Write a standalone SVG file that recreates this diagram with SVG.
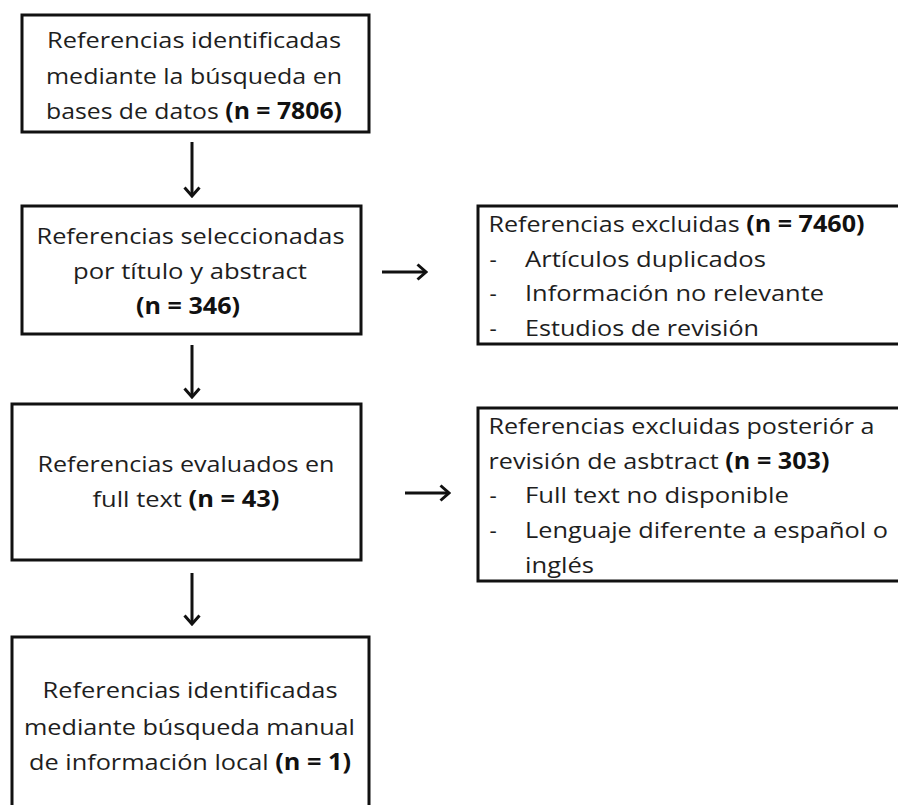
<svg xmlns="http://www.w3.org/2000/svg" width="898" height="805" viewBox="0 0 898 805">
<style>
.box{fill:#fff;stroke:#111;stroke-width:3}
.t{font-family:"Open Sans","Liberation Sans",sans-serif;font-size:22.5px;fill:#1e1e1e}
.b{font-weight:bold;fill:#111}
.c{stroke:#111;stroke-width:3;fill:none}
</style>
<defs>
<marker id="ah" markerUnits="userSpaceOnUse" viewBox="-12 -10 14 20" refX="0" refY="0" markerWidth="14" markerHeight="20" orient="auto">
<path d="M-8.5,-7.5 L0,0 L-8.5,7.5" fill="none" stroke="#111" stroke-width="3"/>
</marker>
</defs>
<rect width="898" height="805" fill="#fff"/>
<g id="n1">
<rect class="box" x="22" y="15" width="347" height="117"/>
<text class="t" x="47" y="48" textLength="294" lengthAdjust="spacingAndGlyphs">Referencias identificadas</text>
<text class="t" x="46" y="83.5" textLength="296" lengthAdjust="spacingAndGlyphs">mediante la búsqueda en</text>
<text class="t" x="46" y="118.5" textLength="296" lengthAdjust="spacingAndGlyphs">bases de datos <tspan class="b">(n = 7806)</tspan></text>
</g>
<g id="n2">
<rect class="box" x="22" y="206" width="339" height="128"/>
<text class="t" x="36.5" y="243.5" textLength="308" lengthAdjust="spacingAndGlyphs">Referencias seleccionadas</text>
<text class="t" x="73" y="279" textLength="234" lengthAdjust="spacingAndGlyphs">por título y abstract</text>
<text class="t b" x="136" y="313.5" textLength="104" lengthAdjust="spacingAndGlyphs">(n = 346)</text>
</g>
<g id="n3">
<rect class="box" x="478" y="206" width="440" height="138"/>
<text class="t" x="488.5" y="231.7" textLength="376" lengthAdjust="spacingAndGlyphs">Referencias excluidas <tspan class="b">(n = 7460)</tspan></text>
<text class="t" x="489.5" y="266.7">-</text>
<text class="t" x="525" y="266.7" textLength="241" lengthAdjust="spacingAndGlyphs">Artículos duplicados</text>
<text class="t" x="489.5" y="300.7">-</text>
<text class="t" x="525" y="300.7" textLength="299" lengthAdjust="spacingAndGlyphs">Información no relevante</text>
<text class="t" x="489.5" y="336">-</text>
<text class="t" x="525" y="336" textLength="234" lengthAdjust="spacingAndGlyphs">Estudios de revisión</text>
</g>
<g id="n4">
<rect class="box" x="12" y="404" width="349" height="156"/>
<text class="t" x="37.5" y="471.7" textLength="297" lengthAdjust="spacingAndGlyphs">Referencias evaluados en</text>
<text class="t" x="92.5" y="506.7" textLength="187" lengthAdjust="spacingAndGlyphs">full text <tspan class="b">(n = 43)</tspan></text>
</g>
<g id="n5">
<rect class="box" x="478" y="408" width="440" height="173"/>
<text class="t" x="488.5" y="434" textLength="386" lengthAdjust="spacingAndGlyphs">Referencias excluidas posteriór a</text>
<text class="t" x="488.5" y="469.3" textLength="341" lengthAdjust="spacingAndGlyphs">revisión de asbtract <tspan class="b">(n = 303)</tspan></text>
<text class="t" x="489.5" y="503.3">-</text>
<text class="t" x="525" y="503.3" textLength="264" lengthAdjust="spacingAndGlyphs">Full text no disponible</text>
<text class="t" x="489.5" y="538.3">-</text>
<text class="t" x="525" y="538.3" textLength="363" lengthAdjust="spacingAndGlyphs">Lenguaje diferente a español o</text>
<text class="t" x="525" y="572.7" textLength="69" lengthAdjust="spacingAndGlyphs">inglés</text>
</g>
<g id="n6">
<rect class="box" x="12" y="637" width="357" height="200"/>
<text class="t" x="42.5" y="698.3" textLength="295" lengthAdjust="spacingAndGlyphs">Referencias identificadas</text>
<text class="t" x="24" y="735" textLength="331" lengthAdjust="spacingAndGlyphs">mediante búsqueda manual</text>
<text class="t" x="29" y="770" textLength="322" lengthAdjust="spacingAndGlyphs">de información local <tspan class="b">(n = 1)</tspan></text>
</g>
<g id="connectors">
<line class="c" x1="192" y1="142" x2="192" y2="196" marker-end="url(#ah)"/>
<line class="c" x1="192" y1="345" x2="192" y2="397" marker-end="url(#ah)"/>
<line class="c" x1="192" y1="573" x2="192" y2="624" marker-end="url(#ah)"/>
<line class="c" x1="382" y1="272" x2="426" y2="272" marker-end="url(#ah)"/>
<line class="c" x1="405" y1="493" x2="449" y2="493" marker-end="url(#ah)"/>
</g>
</svg>
